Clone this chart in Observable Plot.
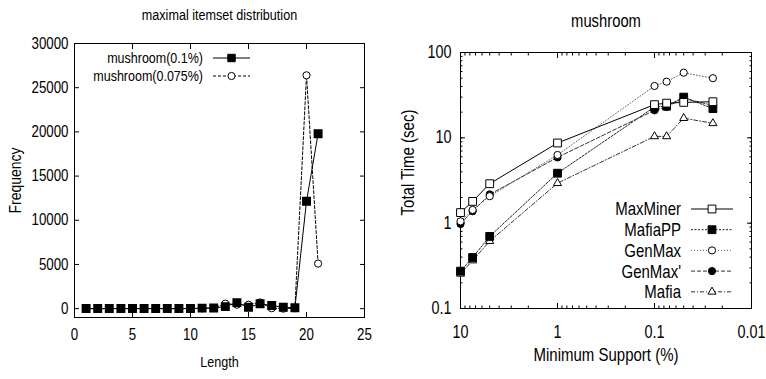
<!DOCTYPE html>
<html><head><meta charset="utf-8">
<script src="https://cdn.jsdelivr.net/npm/d3@7"></script>
<script src="https://cdn.jsdelivr.net/npm/@observablehq/plot@0.6"></script>
<style>
html,body{margin:0;padding:0;background:#fff;}
#wrap{display:flex;width:766px;height:379px;overflow:hidden;}
#wrap svg{display:block;}
</style></head><body><div id="wrap"></div>
<script>
const FONT = '"Liberation Sans", Arial, Helvetica, sans-serif';
const STRETCH = 1.22;

// ---------- Left panel data ----------
const leftTitle = "maximal itemset distribution";
const lengths = [1,2,3,4,5,6,7,8,9,10,11,12,13,14,15,16,17,18,19,20,21];
const freqMush01   = [10,10,10,10,10,10,10,10,10,20,60,80,230,680,150,560,350,170,100,12150,19800];
const freqMush0075 = [0,0,0,0,0,0,0,0,0,0,30,60,570,450,450,700,50,0,50,26400,5100];
const leftSeriesNames = ["mushroom(0.1%)", "mushroom(0.075%)"];
const leftXTicks = [0,5,10,15,20,25];
const leftYTicks = [0,5000,10000,15000,20000,25000,30000];

// ---------- Right panel data ----------
const rightTitle = "mushroom";
const supports = [10, 7.5, 5, 1, 0.1, 0.075, 0.05, 0.025];
const seriesNames = ["MaxMiner", "MafiaPP", "GenMax", "GenMax'", "Mafia"];
const maxMiner = [1.33, 1.8, 2.9, 8.7, 24.5, 25.5, 26, 26.5];
const mafiaPP  = [0.274, 0.396, 0.70, 3.85, 23, 23.5, 30, 22];
const genMax   = [1.05, 1.43, 2.07, 6.3, 40.5, 45.5, 58, 50];
const genMaxP  = [0.98, 1.38, 2.17, 5.9, 21, 23, 29, 24];
const mafia    = [0.255, 0.365, 0.615, 2.94, 10.4, 10.4, 17, 14.8];
const rightXTicks = [10, 1, 0.1, 0.01];
const rightYTicks = [0.1, 1, 10, 100];

// ---------- helpers ----------
function addLegend(svg, items, o) {
  const g = d3.select(svg).append("g").attr("font-family", FONT).attr("font-size", o.fontSize).attr("fill", "black");
  items.forEach((it, i) => {
    const y = o.y0 + i * o.dy;
    g.append("text").attr("transform", `translate(${o.textX},${y})`).attr("dy", "0.35em").attr("text-anchor", "end").text(it.label);
    g.append("line").attr("x1", o.x1).attr("x2", o.x2).attr("y1", y).attr("y2", y)
      .attr("stroke", it.stroke).attr("stroke-width", 1).attr("stroke-dasharray", it.dash || null);
    g.append("path").attr("transform", `translate(${(o.x1 + o.x2) / 2},${y})`)
      .attr("d", d3.symbol(it.symbol, Math.PI * it.r * it.r)())
      .attr("fill", it.fill).attr("stroke", "black").attr("stroke-width", 1);
  });
}
// gnuplot-like tall glyphs: stretch every text vertically about its own anchor
function stretchTexts(svg) {
  d3.select(svg).selectAll("text").each(function () {
    let t = this.getAttribute("transform");
    if (!t) {
      const x = this.getAttribute("x") || 0, y = this.getAttribute("y") || 0;
      this.removeAttribute("x"); this.removeAttribute("y");
      t = `translate(${x},${y})`;
    }
    this.setAttribute("transform", `${t} scale(1,${STRETCH})`);
  });
}
const centered = {textAnchor: "middle", lineAnchor: "middle"};

// ---------- Left plot ----------
const t01 = lengths.map((L, i) => ({L, f: freqMush01[i]}));
const t0075 = lengths.map((L, i) => ({L, f: freqMush0075[i]}));

const left = Plot.plot({
  width: 383, height: 379,
  marginLeft: 74, marginRight: 19, marginTop: 43, marginBottom: 62,
  style: {fontFamily: FONT, fontSize: "13px", color: "black", background: "white", overflow: "visible"},
  x: {domain: [0, 25], label: null},
  y: {domain: [-1000, 30000], label: null},
  marks: [
    Plot.frame({stroke: "black", strokeWidth: 1}),
    Plot.axisX({ticks: leftXTicks, tickSize: 0, tickPadding: 11, fontSize: 13.3, tickFormat: d => String(d), label: null}),
    Plot.axisX({ticks: leftXTicks, tickSize: -5, tickFormat: () => "", label: null}),
    Plot.axisX({anchor: "top", ticks: leftXTicks, tickSize: -5, tickFormat: () => "", label: null}),
    Plot.axisY({ticks: leftYTicks, tickSize: 0, tickPadding: 6, fontSize: 13.3, tickFormat: d => String(d), label: null}),
    Plot.axisY({ticks: leftYTicks, tickSize: -5, tickFormat: () => "", label: null}),
    Plot.axisY({anchor: "right", ticks: leftYTicks, tickSize: -5, tickFormat: () => "", label: null}),
    Plot.line(t0075, {x: "L", y: "f", stroke: "black", strokeWidth: 1, strokeDasharray: "3,2"}),
    Plot.line(t01, {x: "L", y: "f", stroke: "black", strokeWidth: 1}),
    Plot.dot(t0075, {x: "L", y: "f", symbol: "circle", r: 3.6, fill: "white", stroke: "black", strokeWidth: 1}),
    Plot.dot(t01, {x: "L", y: "f", symbol: "square", r: 4.2, fill: "black", stroke: "black"}),
    Plot.text([leftTitle], {frameAnchor: "top", dy: -28, fontSize: 12.6, text: d => d, ...centered}),
    Plot.text(["Length"], {frameAnchor: "bottom", dy: 45, fontSize: 12.6, text: d => d, ...centered}),
    Plot.text(["Frequency"], {frameAnchor: "left", dx: -59, rotate: -90, fontSize: 14, text: d => d, letterSpacing: 1.8, ...centered})
  ]
});
addLegend(left, [
  {label: leftSeriesNames[0], stroke: "black", symbol: d3.symbolSquare, r: 4.2, fill: "black"},
  {label: leftSeriesNames[1], stroke: "black", dash: "3,2", symbol: d3.symbolCircle, r: 3.6, fill: "white"}
], {fontSize: 12.5, y0: 58, dy: 18, textX: 203, x1: 213, x2: 250});
stretchTexts(left);

// ---------- Right plot ----------
const styles = [
  {name: seriesNames[0], vals: maxMiner, stroke: "black", dash: null, symbol: "square", r: 4.4, fill: "white"},
  {name: seriesNames[1], vals: mafiaPP, stroke: "#222", dash: "2,1.5", symbol: "square", r: 4.4, fill: "black"},
  {name: seriesNames[2], vals: genMax, stroke: "#666", dash: "1,2", symbol: "circle", r: 3.6, fill: "white"},
  {name: seriesNames[3], vals: genMaxP, stroke: "#333", dash: "4,2", symbol: "circle", r: 3.6, fill: "black"},
  {name: seriesNames[4], vals: mafia, stroke: "#333", dash: "4,2,1,2", symbol: "triangle", r: 3, fill: "white"}
];
const symMap = {square: d3.symbolSquare, circle: d3.symbolCircle, triangle: d3.symbolTriangle};
const yMinor = d3.scaleLog().domain([0.1, 100]).ticks();
const xMinor = d3.scaleLog().domain([0.01, 10]).ticks();

const seriesMarks = [];
for (const s of [...styles].reverse()) {
  const tbl = supports.map((x, i) => ({x, y: s.vals[i]}));
  seriesMarks.push(Plot.line(tbl, {x: "x", y: "y", stroke: s.stroke, strokeWidth: 1, strokeDasharray: s.dash}));
}
for (const s of [...styles].reverse()) {
  const tbl = supports.map((x, i) => ({x, y: s.vals[i]}));
  seriesMarks.push(Plot.dot(tbl, {x: "x", y: "y", symbol: s.symbol, r: s.r, fill: s.fill, stroke: "black", strokeWidth: 1}));
}

const right = Plot.plot({
  width: 383, height: 379,
  marginLeft: 77, marginRight: 15, marginTop: 52, marginBottom: 71,
  style: {fontFamily: FONT, fontSize: "14px", color: "black", background: "white", overflow: "visible"},
  x: {type: "log", domain: [10, 0.01], label: null},
  y: {type: "log", domain: [0.1, 100], label: null},
  marks: [
    Plot.frame({stroke: "black", strokeWidth: 1}),
    Plot.axisX({ticks: rightXTicks, tickSize: 0, tickPadding: 17, fontSize: 14.4, tickFormat: d => String(d), label: null}),
    Plot.axisX({ticks: rightXTicks, tickSize: -5, tickFormat: () => "", label: null}),
    Plot.axisX({ticks: xMinor, tickSize: -2.5, tickFormat: () => "", label: null}),
    Plot.axisX({anchor: "top", ticks: rightXTicks, tickSize: -5, tickFormat: () => "", label: null}),
    Plot.axisX({anchor: "top", ticks: xMinor, tickSize: -2.5, tickFormat: () => "", label: null}),
    Plot.axisY({ticks: rightYTicks, tickSize: 0, tickPadding: 9, fontSize: 14.4, tickFormat: d => String(d), label: null}),
    Plot.axisY({ticks: rightYTicks, tickSize: -5, tickFormat: () => "", label: null}),
    Plot.axisY({ticks: yMinor, tickSize: -2.5, tickFormat: () => "", label: null}),
    Plot.axisY({anchor: "right", ticks: rightYTicks, tickSize: -5, tickFormat: () => "", label: null}),
    Plot.axisY({anchor: "right", ticks: yMinor, tickSize: -2.5, tickFormat: () => "", label: null}),
    ...seriesMarks,
    Plot.text([rightTitle], {frameAnchor: "top", dy: -31, fontSize: 14.8, text: d => d, ...centered}),
    Plot.text(["Minimum Support (%)"], {frameAnchor: "bottom", dy: 47, fontSize: 15, text: d => d, ...centered}),
    Plot.text(["Total Time (sec)"], {frameAnchor: "left", dx: -52, dy: -18, rotate: -90, fontSize: 15, text: d => d, letterSpacing: 0.5, ...centered})
  ]
});
addLegend(right, styles.map(s => ({label: s.name, stroke: s.stroke, dash: s.dash, symbol: symMap[s.symbol], r: s.r, fill: s.fill})),
  {fontSize: 15, y0: 209, dy: 20.7, textX: 298, x1: 308, x2: 350});
stretchTexts(right);

document.getElementById("wrap").append(left, right);
</script></body></html>
